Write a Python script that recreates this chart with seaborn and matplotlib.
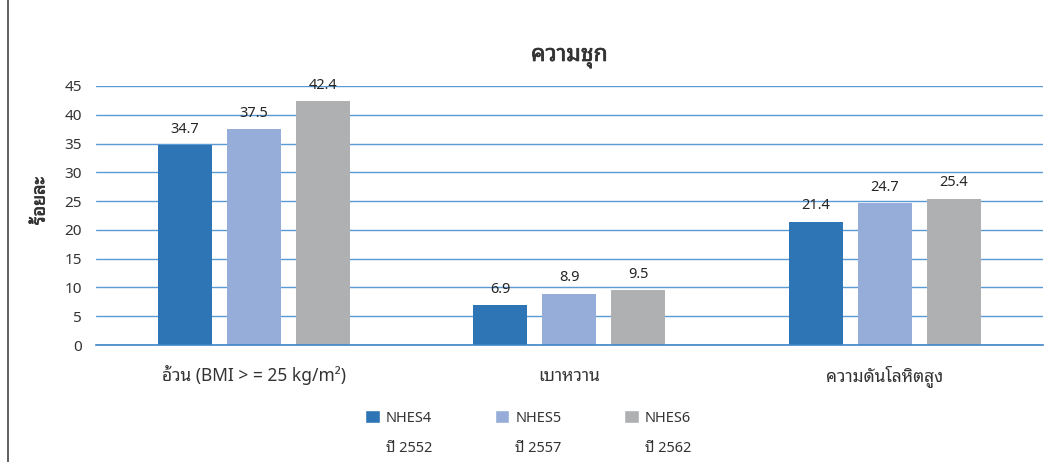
import matplotlib
matplotlib.use("Agg")
import matplotlib.pyplot as plt
from matplotlib import font_manager
from matplotlib import patheffects
from matplotlib.patches import Patch
from matplotlib.lines import Line2D
import seaborn as sns
import pandas as pd

# data
categories = ["อ้วน (BMI > = 25 kg/m²)", "เบาหวาน", "ความดันโลหิตสูง"]
surveys = ["NHES4", "NHES5", "NHES6"]
years = ["ปี 2552", "ปี 2557", "ปี 2562"]
nhes4 = [34.7, 6.9, 21.4]
nhes5 = [37.5, 8.9, 24.7]
nhes6 = [42.4, 9.5, 25.4]
colors = ["#2E75B6", "#95ADD8", "#AFB0B2"]

sns.set_theme(style="white")
installed = {f.name for f in font_manager.fontManager.ttflist}
thai = [n for n in ["Noto Sans Thai Looped", "Loma"] if n in installed][:1]
plt.rcParams["font.family"] = ["Noto Sans"] + thai + ["DejaVu Sans"]

rows = []
for s, vals in zip(surveys, [nhes4, nhes5, nhes6]):
    for c, v in zip(categories, vals):
        rows.append({"category": c, "survey": s, "value": v})
df = pd.DataFrame(rows)

fig = plt.figure(figsize=(10.63, 4.62), dpi=100)
ax = fig.add_axes([0.0903, 0.2532, 0.8907, 0.5607])

sns.barplot(data=df, x="category", y="value", hue="survey", palette=colors,
            width=0.656, gap=0.22, saturation=1, legend=False, linewidth=0, ax=ax)

text_col = "#333333"
for cont in ax.containers:
    ax.bar_label(cont, fmt="%.1f", padding=6, fontsize=10.5, color="#262626")

ax.set_ylim(0, 45)
ax.set_yticks(range(0, 50, 5))
ax.yaxis.grid(True, color="#5B9BD5", linewidth=1)
ax.set_axisbelow(True)
for sp in ax.spines.values():
    sp.set_visible(False)
ax.spines["bottom"].set_visible(True)
ax.spines["bottom"].set_color("#3F86C8")
ax.spines["bottom"].set_linewidth(1.2)
ax.tick_params(axis="y", length=0, pad=10, labelsize=11, labelcolor=text_col)
ax.tick_params(axis="x", length=0, pad=26, labelsize=12.5, labelcolor=text_col)
for lab in ax.get_xticklabels():
    lab.set_verticalalignment("baseline")
ax.set_xlabel("")

# no bold Thai face installed, so thicken with a thin stroke
bold = [patheffects.withStroke(linewidth=0.5, foreground=text_col)]
ax.set_ylabel("ร้อยละ", fontsize=13, color=text_col, path_effects=bold)
ax.yaxis.set_label_coords(-0.05, 0.556)
ax.set_title("ความชุก", fontsize=16.5, color=text_col, pad=18, path_effects=bold)

handles = []
labels = []
for s, y, c in zip(surveys, years, colors):
    handles.append(Patch(facecolor=c))
    labels.append(s)
    handles.append(Patch(facecolor="none", edgecolor="none"))
    labels.append(y)
fig.legend(handles, labels, ncol=3, loc="lower center", bbox_to_anchor=(0.497, -0.015),
           frameon=False, fontsize=10.5, handlelength=1.0, handleheight=1.0,
           handletextpad=0.4, columnspacing=4.3, labelspacing=1.0,
           labelcolor=text_col)

fig.add_artist(Line2D([0.0075, 0.0075], [0, 1], transform=fig.transFigure,
                      color="#444444", linewidth=1.2))

fig.savefig("out.png", dpi=100)
